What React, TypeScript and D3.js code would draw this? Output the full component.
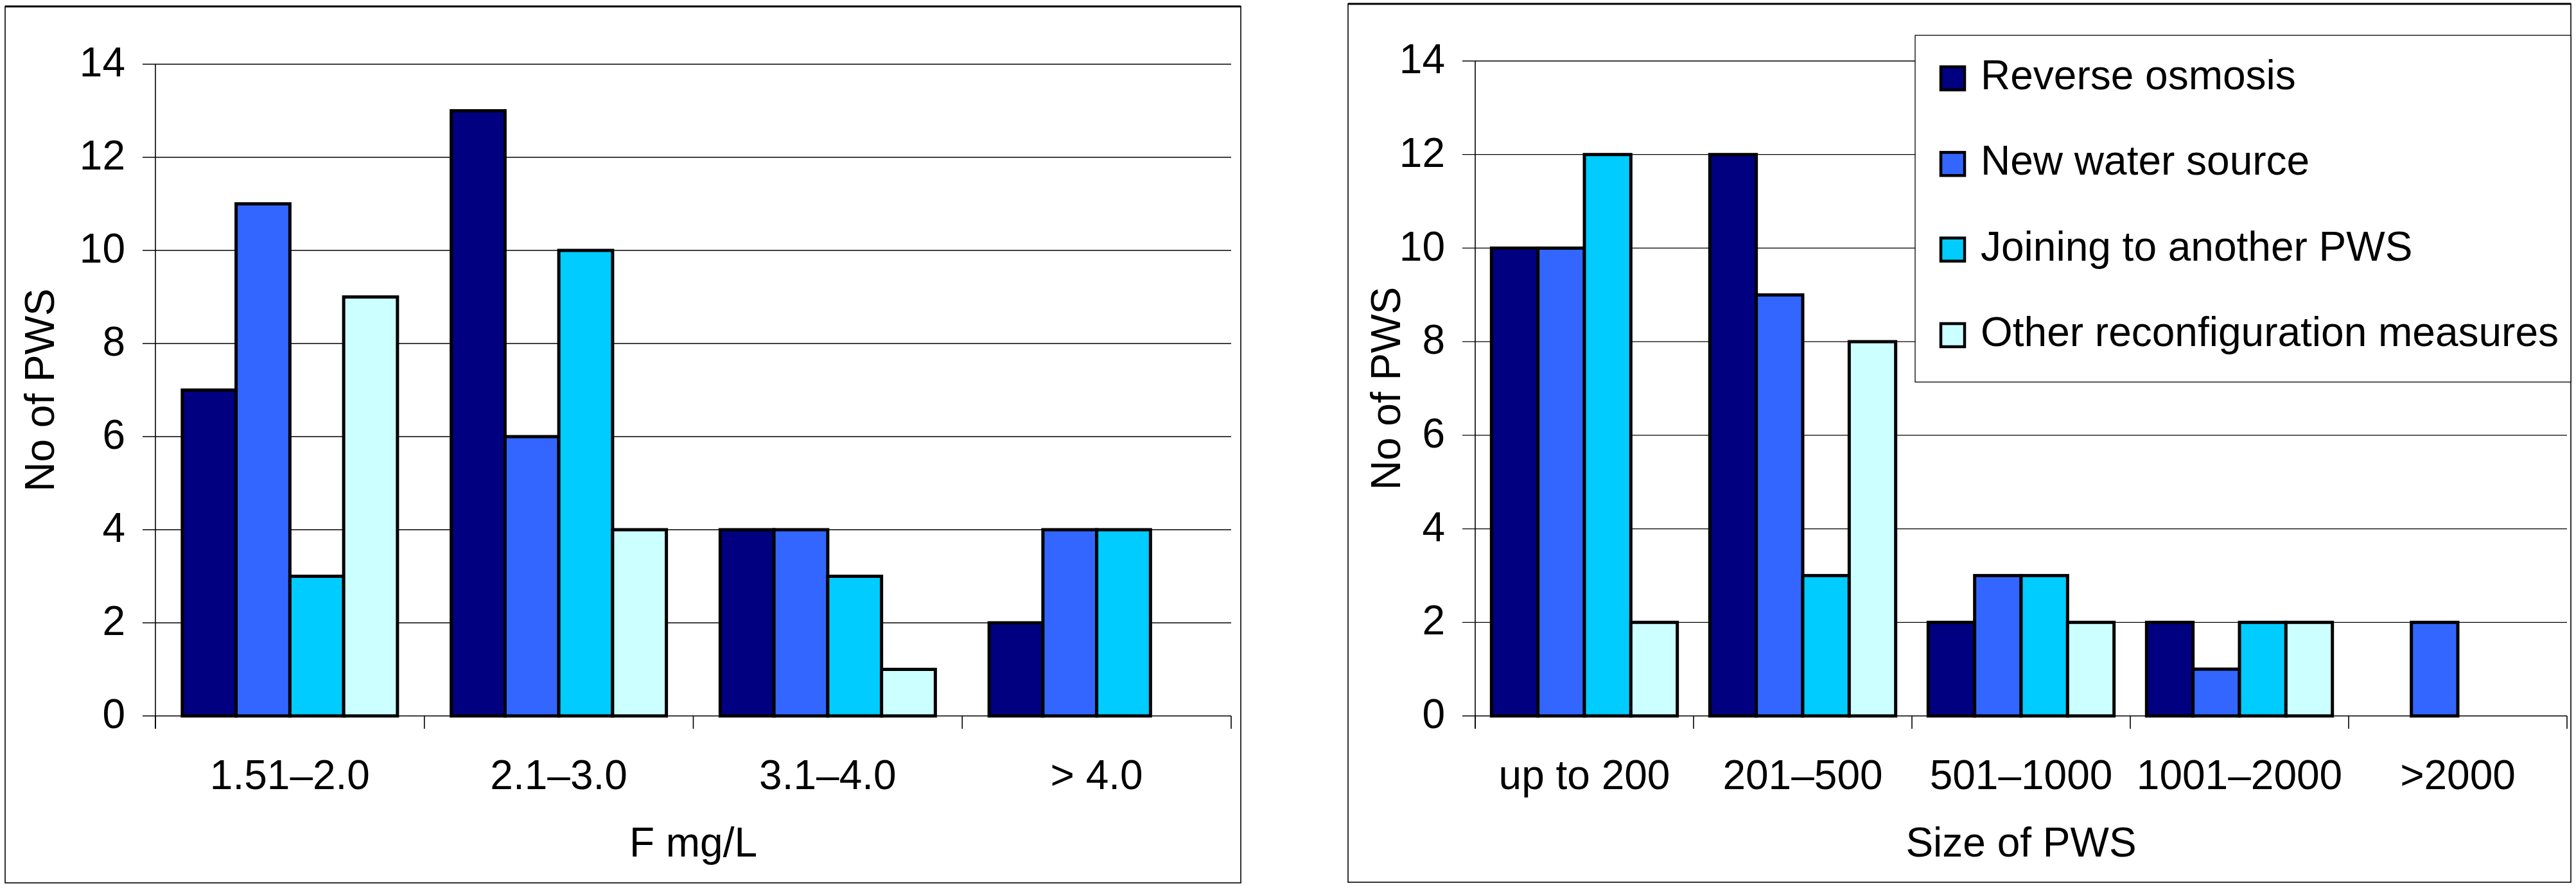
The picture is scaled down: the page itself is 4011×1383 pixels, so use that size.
import { useEffect, useRef } from "react";
import * as d3 from "d3";

const seriesNames = [
  "Reverse osmosis",
  "New water source",
  "Joining to another PWS",
  "Other reconfiguration measures",
];
const seriesColors = ["#000080", "#3366ff", "#00ccff", "#ccffff"];

// left chart: by fluoride concentration
const fluorideCategories = ["1.51–2.0", "2.1–3.0", "3.1–4.0", "> 4.0"];
const fluorideReverseOsmosis = [7, 13, 4, 2];
const fluorideNewSource = [11, 6, 4, 4];
const fluorideJoining = [3, 10, 3, 4];
const fluorideOther = [9, 4, 1, 0];

// right chart: by size of PWS
const sizeCategories = ["up to 200", "201–500", "501–1000", "1001–2000", ">2000"];
const sizeReverseOsmosis = [10, 12, 2, 2, 0];
const sizeNewSource = [10, 9, 3, 1, 2];
const sizeJoining = [12, 3, 3, 2, 0];
const sizeOther = [2, 8, 2, 2, 0];

const yTicks = [0, 2, 4, 6, 8, 10, 12, 14];

const FONT = "'Liberation Sans', Arial, sans-serif";
const FS = 64;

interface ChartCfg {
  panel: [number, number, number, number];
  left: number;
  right: number;
  top: number;
  bottom: number;
  gap: number; // gap between groups, in bar widths
  categories: string[];
  values: number[][];
  xTitle: string;
  yTitleX: number;
  legend?: [number, number, number, number];
}

function drawChart(svg: d3.Selection<SVGSVGElement, unknown, null, undefined>, cfg: ChartCfg) {
  const g = svg.append("g");
  const [px, py, pw, ph] = cfg.panel;

  g.append("rect")
    .attr("x", px).attr("y", py).attr("width", pw).attr("height", ph)
    .attr("fill", "#fff").attr("stroke", "#000").attr("stroke-width", 1.6);
  g.append("line")
    .attr("x1", px).attr("x2", px + pw).attr("y1", py).attr("y2", py)
    .attr("stroke", "#000").attr("stroke-width", 3);

  const x0 = d3.scaleBand<string>().domain(cfg.categories).range([cfg.left, cfg.right]).padding(0);
  const bw = x0.bandwidth();
  const barW = bw / (seriesNames.length + cfg.gap);
  const x1 = d3
    .scaleBand<string>()
    .domain(seriesNames)
    .range([(barW * cfg.gap) / 2, bw - (barW * cfg.gap) / 2])
    .padding(0);
  const y = d3.scaleLinear().domain([0, 14]).range([cfg.bottom, cfg.top]);

  // gridlines + y ticks
  g.append("g")
    .selectAll("line")
    .data(yTicks)
    .enter()
    .append("line")
    .attr("x1", cfg.left - 20)
    .attr("x2", cfg.right)
    .attr("y1", (d) => y(d))
    .attr("y2", (d) => y(d))
    .attr("stroke", "#000")
    .attr("stroke-width", (d) => (d === 0 ? 1.6 : 1.3));

  g.append("g")
    .selectAll("text")
    .data(yTicks)
    .enter()
    .append("text")
    .attr("x", cfg.left - 47)
    .attr("y", (d) => y(d))
    .attr("dy", "0.3em")
    .attr("text-anchor", "end")
    .style("font-family", FONT)
    .style("font-size", `${FS}px`)
    .text((d) => d);

  // y axis line
  g.append("line")
    .attr("x1", cfg.left).attr("x2", cfg.left)
    .attr("y1", cfg.top).attr("y2", cfg.bottom + 20)
    .attr("stroke", "#000").attr("stroke-width", 1.6);

  // x ticks at category boundaries
  const bounds = cfg.categories.map((c) => x0(c) as number).concat([cfg.right]);
  g.append("g")
    .selectAll("line")
    .data(bounds)
    .enter()
    .append("line")
    .attr("x1", (d) => d).attr("x2", (d) => d)
    .attr("y1", cfg.bottom).attr("y2", cfg.bottom + 20)
    .attr("stroke", "#000").attr("stroke-width", 1.6);

  // legend sits over the gridlines
  if (cfg.legend) {
    const [lx, ly, lw, lh] = cfg.legend;
    const lg = g.append("g");
    lg.append("rect")
      .attr("x", lx).attr("y", ly).attr("width", lw).attr("height", lh)
      .attr("fill", "#fff").attr("stroke", "#000").attr("stroke-width", 1.3);
    const ly0 = d3.scalePoint<string>().domain(seriesNames).range([ly + 67, ly + 467]);
    const item = lg
      .selectAll("g")
      .data(seriesNames)
      .enter()
      .append("g")
      .attr("transform", (d) => `translate(${lx},${ly0(d)})`);
    item.append("rect")
      .attr("x", 40).attr("y", -18).attr("width", 37).attr("height", 36)
      .attr("fill", (_d, i) => seriesColors[i])
      .attr("stroke", "#000").attr("stroke-width", 4.5);
    item.append("text")
      .attr("x", 102).attr("y", 17)
      .style("font-family", FONT)
      .style("font-size", `${FS}px`)
      .text((d) => d);
  }

  // bars
  const groups = g
    .selectAll("g.cat")
    .data(cfg.categories)
    .enter()
    .append("g")
    .attr("class", "cat")
    .attr("transform", (d) => `translate(${x0(d)},0)`);

  groups
    .selectAll("rect")
    .data((_d, ci) => seriesNames.map((s, si) => ({ key: s, si, value: cfg.values[si][ci] })))
    .enter()
    .filter((d) => d.value > 0)
    .append("rect")
    .attr("x", (d) => x1(d.key) as number)
    .attr("y", (d) => y(d.value))
    .attr("width", x1.bandwidth())
    .attr("height", (d) => y(0) - y(d.value))
    .attr("fill", (d) => seriesColors[d.si])
    .attr("stroke", "#000")
    .attr("stroke-width", 5);

  // category labels
  g.append("g")
    .selectAll("text")
    .data(cfg.categories)
    .enter()
    .append("text")
    .attr("x", (d) => (x0(d) as number) + bw / 2)
    .attr("y", 1229)
    .attr("text-anchor", "middle")
    .style("font-family", FONT)
    .style("font-size", `${FS}px`)
    .text((d) => d);

  g.append("text")
    .attr("x", (cfg.left + cfg.right) / 2)
    .attr("y", 1334)
    .attr("text-anchor", "middle")
    .style("font-family", FONT)
    .style("font-size", `${FS}px`)
    .text(cfg.xTitle);

  g.append("text")
    .attr("transform", `translate(${cfg.yTitleX},${(cfg.top + cfg.bottom) / 2}) rotate(-90)`)
    .attr("text-anchor", "middle")
    .style("font-family", FONT)
    .style("font-size", `${FS}px`)
    .text("No of PWS");
}

export default function App() {
  const svgRef = useRef<SVGSVGElement>(null);

  useEffect(() => {
    if (!svgRef.current) return;
    const svg = d3.select(svgRef.current);
    svg.selectAll("*").remove();

    drawChart(svg, {
      panel: [8, 10, 1924, 1365],
      left: 242,
      right: 1917,
      top: 100,
      bottom: 1115,
      gap: 1,
      categories: fluorideCategories,
      values: [fluorideReverseOsmosis, fluorideNewSource, fluorideJoining, fluorideOther],
      xTitle: "F mg/L",
      yTitleX: 84,
    });

    drawChart(svg, {
      panel: [2099, 6, 1904, 1368],
      left: 2297,
      right: 3997,
      top: 95,
      bottom: 1115,
      gap: 0.7,
      categories: sizeCategories,
      values: [sizeReverseOsmosis, sizeNewSource, sizeJoining, sizeOther],
      xTitle: "Size of PWS",
      yTitleX: 2180,
      legend: [2982, 55, 1021, 540],
    });
  }, []);

  return (
    <svg
      ref={svgRef}
      width={4011}
      height={1383}
      style={{ position: "absolute", left: 0, top: 0, background: "#fff" }}
    />
  );
}
